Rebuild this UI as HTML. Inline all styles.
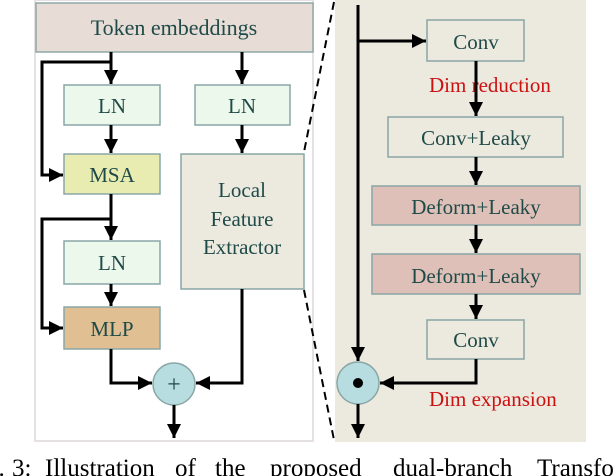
<!DOCTYPE html>
<html><head><meta charset="utf-8"><style>body{margin:0;background:#fff}svg{display:block}text{font-family:"Liberation Serif",serif}</style></head>
<body>
<svg width="614" height="476" viewBox="0 0 614 476" xmlns="http://www.w3.org/2000/svg">
<defs>
<marker id="b" viewBox="0 0 10 10" refX="10" refY="5" markerWidth="14" markerHeight="14" orient="auto" markerUnits="userSpaceOnUse"><path d="M0,0 L10,5 L0,10 z" fill="#000"/></marker>
</defs>
<rect x="35" y="0" width="278" height="441" fill="#fff" stroke="#e4e0e4" stroke-width="2"/>
<rect x="36" y="3" width="277" height="49" fill="#e8dcd6" stroke="#8fa8a8" stroke-width="1.5"/>
<text x="174" y="35" font-size="22" fill="#1f4a48" text-anchor="middle">Token embeddings</text>
<rect x="335" y="0" width="251" height="442" fill="#ece9df"/>
<g stroke="#8aa6a6" stroke-width="1.5">
<rect x="64" y="85" width="96" height="40" fill="#ecf8ec"/>
<rect x="195" y="85" width="95" height="40" fill="#ecf8ec"/>
<rect x="64" y="154" width="96" height="40" fill="#e8ecb0"/>
<rect x="181" y="154" width="123" height="135" fill="#ece9df"/>
<rect x="64" y="241" width="96" height="43" fill="#ecf8ec"/>
<rect x="64" y="307" width="96" height="42" fill="#e0c093"/>
<circle cx="174" cy="384" r="21" fill="#b8dde0"/>
<circle cx="358" cy="383" r="21" fill="#b8dde0"/>
</g>
<g fill="#1f4a48" font-size="21" text-anchor="middle">
<text x="112" y="113">LN</text>
<text x="242" y="113">LN</text>
<text x="112" y="182">MSA</text>
<text x="112" y="270">LN</text>
<text x="112" y="336">MLP</text>
<text x="242" y="197">Local</text>
<text x="242" y="226">Feature</text>
<text x="242" y="254">Extractor</text>
<text x="174" y="392" font-size="24">+</text>
</g>
<circle cx="358" cy="383" r="5" fill="#000"/>
<g stroke="#000" stroke-width="3" fill="none">
<path d="M111 52 V84" marker-end="url(#b)"/>
<path d="M111 62 H42 V175 H63" marker-end="url(#b)"/>
<path d="M111 125 V153" marker-end="url(#b)"/>
<path d="M242 52 V84" marker-end="url(#b)"/>
<path d="M242 125 V153" marker-end="url(#b)"/>
<path d="M111 194 V240" marker-end="url(#b)"/>
<path d="M111 219 H42 V328 H63" marker-end="url(#b)"/>
<path d="M111 284 V306" marker-end="url(#b)"/>
<path d="M111 349 V383 H152" marker-end="url(#b)"/>
<path d="M242 289 V383 H196" marker-end="url(#b)"/>
<path d="M174 405 V438" marker-end="url(#b)"/>
</g>
<g stroke="#000" stroke-width="2" stroke-dasharray="8,5">
<path d="M334 2 L304 152"/><path d="M304 290 L334 440"/>
</g>
<g fill="#ece9df" stroke="#8aa6a6" stroke-width="1.5">
<rect x="427" y="20" width="97" height="41"/>
<rect x="388" y="117" width="175" height="40"/>
<rect x="372" y="186" width="208" height="39" fill="#dfc0b8"/>
<rect x="372" y="254" width="208" height="40" fill="#dfc0b8"/>
<rect x="427" y="320" width="97" height="39"/>
</g>
<g fill="#1f4a48" font-size="21" text-anchor="middle">
<text x="476" y="49">Conv</text>
<text x="476" y="145">Conv+Leaky</text>
<text x="476" y="214">Deform+Leaky</text>
<text x="476" y="283">Deform+Leaky</text>
<text x="476" y="347">Conv</text>
</g>
<text x="429" y="92" font-size="21" fill="#cc1111">Dim reduction</text>
<text x="429" y="406" font-size="21" fill="#cc1111">Dim expansion</text>
<g stroke="#000" stroke-width="3" fill="none">
<path d="M358 5 V361" marker-end="url(#b)"/>
<path d="M358 41 H426" marker-end="url(#b)"/>
<path d="M476 61 V116" marker-end="url(#b)"/>
<path d="M476 157 V185" marker-end="url(#b)"/>
<path d="M476 225 V253" marker-end="url(#b)"/>
<path d="M476 294 V319" marker-end="url(#b)"/>
<path d="M476 359 V383 H380" marker-end="url(#b)"/>
<path d="M358 404 V438" marker-end="url(#b)"/>
</g>
<g font-size="25" fill="#000">
<text x="-14" y="476">g.</text>
<text x="12" y="476">3:</text>
<text x="45" y="476">Illustration</text>
<text x="175" y="476">of</text>
<text x="215" y="476">the</text>
<text x="270" y="476">proposed</text>
<text x="393" y="476">dual-branch</text>
<text x="537" y="476">Transformer</text>
</g>
</svg>
</body></html>
